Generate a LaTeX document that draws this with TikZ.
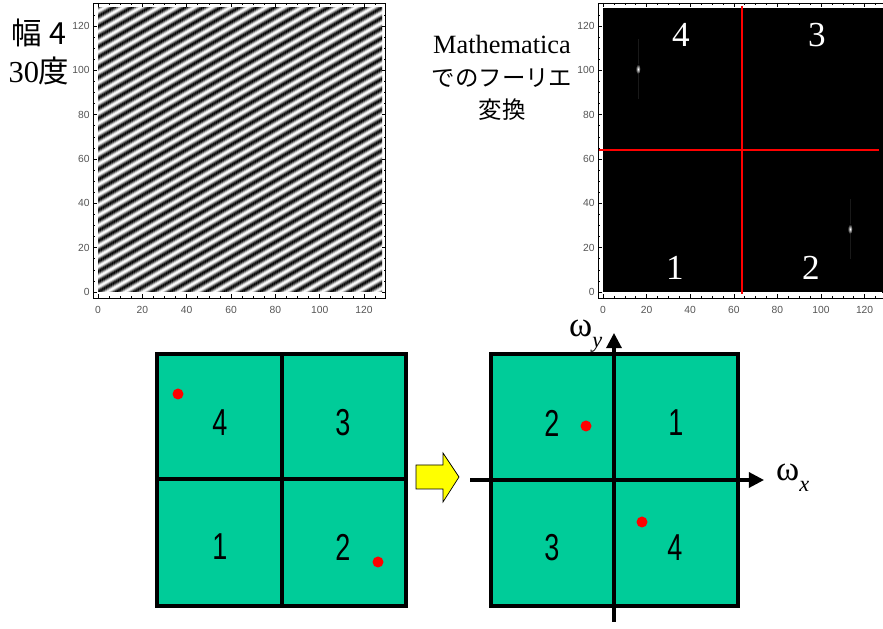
\documentclass[tikz,border=0pt]{standalone}
\usepackage{fontspec}
\setmainfont{Liberation Serif}
\setsansfont{Liberation Sans}
\newfontfamily\jpfont{Noto Sans CJK JP}
\newfontfamily\condfont[FakeStretch=0.72]{Liberation Sans}
\usepackage{tikz}
\usetikzlibrary{arrows.meta, positioning, calc}
\definecolor{quadGreen}{RGB}{0,204,153}
\definecolor{dotRed}{RGB}{255,0,0}
\definecolor{arrYellow}{RGB}{255,255,0}
\definecolor{tickGray}{RGB}{85,85,85}

\begin{document}
\begin{tikzpicture}[x=0.03cm, y=-0.03cm,
  ticklab/.style={font=\sffamily\fontsize{8.8}{9}\selectfont, text=tickGray, inner sep=1pt},
  quadnum/.style={font=\condfont\fontsize{32}{32}\selectfont, inner sep=0pt},
  fftnum/.style={font=\rmfamily\fontsize{30}{30}\selectfont, text=white, inner sep=0pt},
  quad/.style={fill=quadGreen, draw=black, line width=2.6pt},
  divider/.style={draw=black, line width=2.6pt},
  spot/.style={fill=dotRed, draw=none},
  axis/.style={draw=black, line width=2.6pt, -{Triangle[length=13pt, width=13pt]}}]
\useasboundingbox (0,0) rectangle (883,629);
\clip (0,0) rectangle (883,629);

% stripes: width 4, 30 degrees
\begin{scope}
  \clip (98,8) rectangle (382,292);
  \begin{scope}[shift={(240,150)}, rotate=29.7]
    \foreach \k in {-240,...,240} {
      \pgfmathtruncatemacro\g{50+50*cos(36*\k)}
      \draw[line width=0.85pt, black!\g] (-215,\k*0.887) -- (215,\k*0.887);
    }
  \end{scope}
\end{scope}

% Fourier image
\fill[black] (603,8) rectangle (890,292);
\foreach \sx/\sy in {638/69, 850/229} {
  \fill[black!90!white] (\sx-0.5,\sy-30) rectangle (\sx+0.5,\sy+30);
  \shade[inner color=white, outer color=black] (\sx,\sy) ellipse (2.5 and 5);
}
\draw[red, line width=0.9pt] (742,6) -- (742,294);
\draw[red, line width=0.9pt] (598,150) -- (879,150);
\node[fftnum] (f4) at (681,35) {4};
\node[fftnum] (f3) at (817,35) {3};
\node[fftnum] (f1) at (675,268) {1};
\node[fftnum] (f2) at (811,268) {2};

% frames, ticks and tick labels
\foreach \dx/\sx in {0/2.217, 505/2.18} {
  \pgfmathsetmacro\rx{98+\dx+128*\sx+4}
  \draw[line width=0.6pt] (93+\dx,3) rectangle (\rx,298);
  \foreach \u in {0,5,...,125} {
    \pgfmathsetmacro\ticklen{ifthenelse(mod(\u,20)==0,4,2)}
    \pgfmathsetmacro\tx{98+\dx+\u*\sx}
    \pgfmathsetmacro\ty{292-\u*2.217}
    \draw[line width=0.5pt] (\tx,298) -- (\tx,298-\ticklen);
    \draw[line width=0.5pt] (\tx,3) -- (\tx,3+\ticklen);
    \draw[line width=0.5pt] (93+\dx,\ty) -- (93+\dx+\ticklen,\ty);
    \draw[line width=0.5pt] (\rx,\ty) -- (\rx-\ticklen,\ty);
  }
  \foreach \v in {0,20,...,120} {
    \node[ticklab, anchor=east] (yl-\dx-\v) at (91+\dx,292-\v*2.217) {\v};
    \node[ticklab] (xl-\dx-\v) at (98+\dx+\v*\sx,310) {\v};
  }
}

% captions
\node[align=center, inner sep=0pt, font=\rmfamily\fontsize{26}{32}\selectfont]
  (cap1) at (39,52) {{\jpfont 幅 4}\\30{\jpfont 度}};
\node[align=center, inner sep=0pt, font=\rmfamily\fontsize{22.5}{28}\selectfont]
  (cap2) at (502,78)
  {Mathematica\\{\jpfont\fontsize{20}{28}\selectfont でのフーリエ}\\{\jpfont\fontsize{20}{28}\selectfont 変換}};

% left quadrant square
\draw[quad] (157,354) rectangle (406,606);
\draw[divider] (282,354) -- (282,606);
\draw[divider] (157,479) -- (406,479);
\node[quadnum] (a4) at (220,423) {4};
\node[quadnum] (a3) at (343,423) {3};
\node[quadnum] (a1) at (220,547) {1};
\node[quadnum] (a2) at (343,547) {2};
\fill[spot] (178,394) circle (5.5);
\fill[spot] (378,562) circle (5.5);

% shift arrow
\draw[fill=arrYellow, line width=0.6pt]
  (416,465) -- (443,465) -- (443,453) -- (459,477) -- (443,502) -- (443,489) -- (416,489) -- cycle;

% shifted square
\draw[quad] (491,354) rectangle (738,606);
\coordinate (ybot) at (614,622);
\coordinate (ytop) at (614,333);
\coordinate (xleft) at (470,480);
\coordinate (xright) at (764,480);
\draw[axis] (ybot) -- (ytop);
\draw[axis] (xleft) -- (xright);
\node[quadnum] (b2) at (552,423) {2};
\node[quadnum] (b1) at (676,423) {1};
\node[quadnum] (b3) at (552,548) {3};
\node[quadnum] (b4) at (675,548) {4};
\fill[spot] (586,426) circle (5.5);
\fill[spot] (642,522) circle (5.5);
\node[anchor=base west, inner sep=0pt, font=\rmfamily\fontsize{30}{30}\selectfont]
  (wy) at (569,337) {ω\raisebox{-0.3em}{\fontsize{19}{19}\selectfont\itshape y}};
\node[anchor=base west, inner sep=0pt, font=\rmfamily\fontsize{30}{30}\selectfont]
  (wx) at (776,481) {ω\raisebox{-0.3em}{\fontsize{19}{19}\selectfont\itshape x}};
\end{tikzpicture}
\end{document}
